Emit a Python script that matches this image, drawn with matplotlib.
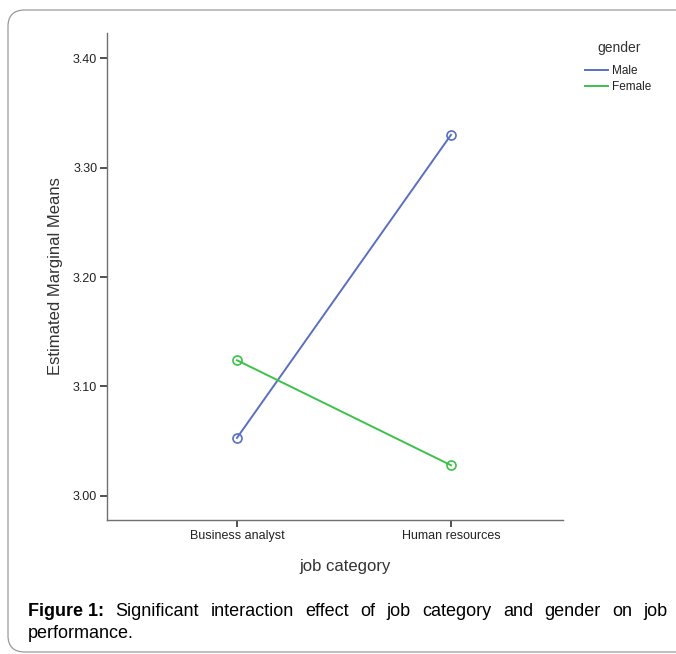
import matplotlib
matplotlib.use("Agg")
import matplotlib.pyplot as plt
from matplotlib.patches import FancyBboxPatch
from matplotlib.lines import Line2D

plt.rcParams['font.family'] = ['Liberation Sans', 'DejaVu Sans']

categories = ["Business analyst", "Human resources"]
male = [3.053, 3.330]
female = [3.124, 3.028]
yticks = [3.00, 3.10, 3.20, 3.30, 3.40]
ytick_labels = ["3.00", "3.10", "3.20", "3.30", "3.40"]
series_names = ["Male", "Female"]
colors = ["#5a6fc2", "#3cc24a"]

W, H = 676, 654
fig = plt.figure(figsize=(W / 100, H / 100), dpi=100)

# outer rounded frame
frame = FancyBboxPatch((8 / W, 1 - 652 / H), (700 - 8) / W, (652 - 10) / H,
                       boxstyle="round,pad=0,rounding_size=0.025",
                       transform=fig.transFigure, fill=False,
                       edgecolor="#9a9a9a", linewidth=0.9, clip_on=False)
fig.patches.append(frame)

ax = fig.add_axes([107 / W, 1 - 520 / H, (563 - 107) / W, (520 - 33) / H])
x = list(range(len(categories)))
for vals, name, c in zip([male, female], series_names, colors):
    ax.plot(x, vals, color=c, linewidth=1.4, marker="o", markersize=6.5,
            markerfacecolor="none", markeredgewidth=1.2, label=name)

ax.set_xlim(-0.607, 1.523)
ax.set_ylim(2.978, 3.423)
ax.set_yticks(yticks)
ax.set_yticklabels(ytick_labels, fontsize=9, color="#222222")
ax.set_xticks(x)
ax.set_xticklabels(categories, fontsize=9, color="#222222")
for s in ["top", "right"]:
    ax.spines[s].set_visible(False)
for s in ["left", "bottom"]:
    ax.spines[s].set_color("#707070")
    ax.spines[s].set_linewidth(1.0)
ax.tick_params(axis="both", color="#333333", length=5, width=1.2, pad=2)
ax.set_ylabel("Estimated Marginal Means", fontsize=12, labelpad=7, color="#333333")
ax.set_xlabel("job category", fontsize=12, labelpad=13, color="#333333")
ax.xaxis.set_label_coords((345 - 107) / (563 - 107), -(566 - 520) / (520 - 33))
ax.xaxis.label.set_va("center")

# legend: title + line-only handles
fig.text(619 / W, 1 - 48 / H, "gender", fontsize=10, ha="center", va="center", color="#333333")
handles = [Line2D([], [], color=c, linewidth=1.4) for c in colors]
leg = fig.legend(handles, series_names, loc="upper left",
                 bbox_to_anchor=(585 / W, 1 - 65 / H), bbox_transform=fig.transFigure,
                 frameon=False, fontsize=8.5, borderpad=0, borderaxespad=0,
                 handlelength=1.95, handletextpad=0.3, labelspacing=0.35)
for t in leg.get_texts():
    t.set_color("#222222")

# caption, first line justified
fig.canvas.draw()
r = fig.canvas.get_renderer()
y1 = 1 - 611 / H
y2 = 1 - 633 / H
x_left, x_right = 28, 668
bold = fig.text(x_left / W, y1, "Figure 1:", fontsize=13, fontweight="bold", va="center")
words = "Significant interaction effect of job category and gender on job".split()
bw = bold.get_window_extent(r).width
wts = [fig.text(0, y1, w, fontsize=13, va="center") for w in words]
widths = [t.get_window_extent(r).width for t in wts]
total = bw + sum(widths)
gap = (x_right - x_left - total) / len(words)
pos = x_left + bw + gap
for t, w in zip(wts, widths):
    t.set_x(pos / W)
    pos += w + gap
fig.text(x_left / W, y2, "performance.", fontsize=13, va="center")

fig.savefig("out.png", dpi=100)
